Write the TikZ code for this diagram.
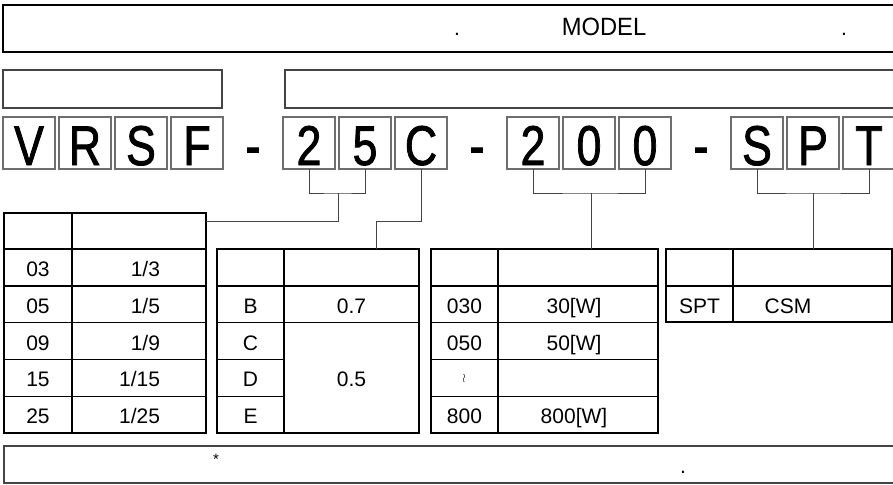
\documentclass[tikz,border=0pt]{standalone}
\usepackage{fontspec}
\setmainfont{Liberation Sans}
\newfontfamily\bigfont[FakeBold=1.6]{Liberation Sans}
\usepackage{graphicx}
\newcommand{\bigtxt}[1]{\scalebox{0.8}[1]{\bigfont\fontsize{56}{56}\selectfont #1}}
\newcommand{\tx}[1]{{\fontsize{21}{21}\selectfont #1}}
\definecolor{boxgray}{HTML}{6E6E6E}
\definecolor{linegray}{HTML}{444444}
\tikzset{
  lbox/.style={draw=boxgray, line width=1.1pt, minimum width=52pt, minimum height=52pt,
    inner sep=0pt, outer sep=0pt, text height=44pt, text depth=0pt},
  dashn/.style={inner sep=0pt, outer sep=0pt, text height=44pt, text depth=0pt},
  cell/.style={draw=black, line width=1.2pt, inner sep=0pt, outer sep=0pt, anchor=north west,
    text height=18pt, text depth=0pt},
  txt/.style={inner sep=0pt, outer sep=0pt, text height=18pt, text depth=0pt},
  outer/.style={draw=black, line width=2pt},
  conn/.style={draw=linegray, line width=1pt},
  thinbox/.style={draw=linegray, line width=1.1pt},
}
\begin{document}
\begin{tikzpicture}[x=1pt,y=-1pt]
\useasboundingbox (0,0) rectangle (893,484);
\clip (0,0) rectangle (893,484);
% top title box
\node[draw=black, line width=2pt, anchor=north west, minimum width=893pt, minimum height=47pt, inner sep=0pt, outer sep=0pt] (title) at (3,5) {};
\node[txt, anchor=base] (dotA) at (457,36) {\tx{.}};
\node[inner sep=0pt, anchor=base] (model) at (604,36) {\scalebox{0.95}[1]{\fontsize{25}{25}\selectfont MODEL}};
\node[txt, anchor=base] (dotB) at (844,36) {\tx{.}};
% second row boxes
\node[thinbox, anchor=north west, minimum width=219pt, minimum height=38pt, inner sep=0pt, outer sep=0pt] (lbl1) at (3,70) {};
\node[thinbox, anchor=north west, minimum width=620pt, minimum height=38pt, inner sep=0pt, outer sep=0pt] (lbl2) at (285,70) {};
% letter boxes
\node[lbox] (nV) at (29,143) {\bigtxt{V}};
\node[lbox] (nR) at (85,143) {\bigtxt{R}};
\node[lbox] (nS) at (141,143) {\bigtxt{S}};
\node[lbox] (nF) at (197,143) {\bigtxt{F}};
\node[dashn] (d1) at (253,143) {\bigtxt{-}};
\node[lbox] (n2) at (309,143) {\bigtxt{2}};
\node[lbox] (n5) at (365,143) {\bigtxt{5}};
\node[lbox] (nC) at (421,143) {\bigtxt{C}};
\node[dashn] (d2) at (477,143) {\bigtxt{-}};
\node[lbox] (n20) at (533,143) {\bigtxt{2}};
\node[lbox] (n0a) at (589,143) {\bigtxt{0}};
\node[lbox] (n0b) at (645,143) {\bigtxt{0}};
\node[dashn] (d3) at (701,143) {\bigtxt{-}};
\node[lbox] (nS2) at (757,143) {\bigtxt{S}};
\node[lbox] (nP) at (813,143) {\bigtxt{P}};
\node[lbox] (nT) at (869,143) {\bigtxt{T}};
% table 1
\node[cell, minimum width=68pt, minimum height=36pt] (t1h1) at (4,213) {};
\node[cell, minimum width=134pt, minimum height=36pt] (t1h2) at (72,213) {};
\foreach \r/\a/\b/\yt in {1/03/{1/3}/249, 2/05/{1/5}/286, 3/09/{1/9}/322.75, 4/15/{1/15}/359.5, 5/25/{1/25}/396.25} {
  \node[cell, minimum width=68pt, minimum height=36.75pt] (t1a\r) at (4,\yt) {\tx{\a}};
  \node[cell, minimum width=134pt, minimum height=36.75pt] (t1b\r) at (72,\yt) {};
  \node[txt, anchor=east] (t1c\r) at (160,\yt+18.4) {\tx{\b}};
}
\draw[outer] (t1h1.north west) rectangle (t1b5.south east);
\draw[outer] (t1h1.south west) -- (t1h2.south east);
% table 2
\node[cell, minimum width=67pt, minimum height=37pt] (t2h1) at (217,249) {};
\node[cell, minimum width=135pt, minimum height=37pt] (t2h2) at (284,249) {};
\node[cell, minimum width=67pt, minimum height=36.75pt] (t2a1) at (217,286) {\tx{B}};
\node[cell, minimum width=135pt, minimum height=36.75pt] (t2b1) at (284,286) {\tx{0.7}};
\node[cell, minimum width=67pt, minimum height=36.75pt] (t2a2) at (217,322.75) {\tx{C}};
\node[cell, minimum width=67pt, minimum height=36.75pt] (t2a3) at (217,359.5) {\tx{D}};
\node[cell, minimum width=67pt, minimum height=36.75pt] (t2a4) at (217,396.25) {\tx{E}};
\node[cell, minimum width=135pt, minimum height=110.25pt] (t2b2) at (284,322.75) {\tx{0.5}};
\draw[outer] (t2h1.north west) rectangle (t2b2.south east);
\draw[outer] (t2h1.south west) -- (t2h2.south east);
% table 3
\node[cell, minimum width=67pt, minimum height=37pt] (t3h1) at (431,249) {};
\node[cell, minimum width=160pt, minimum height=37pt] (t3h2) at (498,249) {};
\node[cell, minimum width=67pt, minimum height=36.75pt] (t3a1) at (431,286) {\tx{030}};
\node[cell, minimum width=160pt, minimum height=36.75pt] (t3b1) at (498,286) {};
\node[txt] (t3c1) at (574,304.4) {\tx{30[W]}};
\node[cell, minimum width=67pt, minimum height=36.75pt] (t3a2) at (431,322.75) {\tx{050}};
\node[cell, minimum width=160pt, minimum height=36.75pt] (t3b2) at (498,322.75) {};
\node[txt] (t3c2) at (574,341.1) {\tx{50[W]}};
\node[cell, minimum width=67pt, minimum height=36.75pt] (t3a3) at (431,359.5) {};
\node[inner sep=0pt] (t3w) at (464,378) {\fontsize{13}{13}\selectfont$\wr$};
\node[cell, minimum width=160pt, minimum height=36.75pt] (t3b3) at (498,359.5) {};
\node[cell, minimum width=67pt, minimum height=36.75pt] (t3a4) at (431,396.25) {\tx{800}};
\node[cell, minimum width=160pt, minimum height=36.75pt] (t3b4) at (498,396.25) {};
\node[txt] (t3c4) at (574,414.6) {\tx{800[W]}};
\draw[outer] (t3h1.north west) rectangle (t3b4.south east);
\draw[outer] (t3h1.south west) -- (t3h2.south east);
% table 4
\node[cell, minimum width=67pt, minimum height=37pt] (t4h1) at (666,249) {};
\node[cell, minimum width=159pt, minimum height=37pt] (t4h2) at (733,249) {};
\node[cell, minimum width=67pt, minimum height=36pt] (t4a1) at (666,286) {\tx{SPT}};
\node[cell, minimum width=159pt, minimum height=36pt] (t4b1) at (733,286) {};
\node[txt] (t4c1) at (788,304) {\tx{CSM}};
\draw[outer] (t4h1.north west) rectangle (t4b1.south east);
\draw[outer] (t4h1.south west) -- (t4h2.south east);
% connectors
\coordinate (j25) at (338,193);
\coordinate (k25) at (338,221);
\draw[conn] (n2.south) |- (j25) -| (n5.south);
\draw[conn] (j25) -- (k25) -- (t1h2.north east |- k25);
\coordinate (kc) at (376,221);
\draw[conn] (nC.south) |- (kc) -- (kc |- t2h2.north);
\coordinate (j200) at (591,193);
\draw[conn] (n20.south) |- (j200) -| (n0b.south);
\draw[conn] (j200) -- (j200 |- t3h2.north);
\coordinate (jspt) at (813,193);
\draw[conn] (nS2.south) |- (jspt) -| (nT.south);
\draw[conn] (jspt) -- (jspt |- t4h2.north);
% bottom note box
\node[thinbox, line width=1.4pt, anchor=north west, minimum width=893pt, minimum height=37pt, inner sep=0pt, outer sep=0pt] (note) at (4,446) {};
\node[inner sep=0pt] (star) at (216,459) {\fontsize{15}{15}\selectfont *};
\node[txt, anchor=base] (dotC) at (683,473) {\tx{.}};
\end{tikzpicture}
\end{document}
